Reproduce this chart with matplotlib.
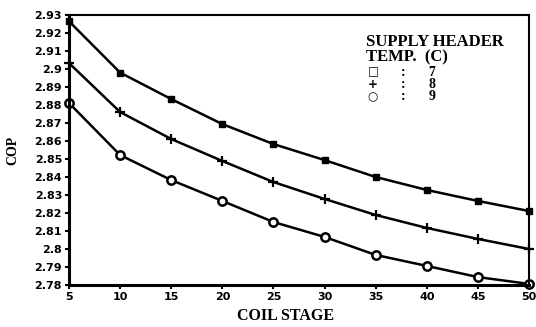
import matplotlib
matplotlib.use("Agg")
import matplotlib.pyplot as plt
import numpy as np

coil_stage = [5, 10, 15, 20, 25, 30, 35, 40, 45, 50]
cop_7 = [2.9265, 2.898, 2.8833, 2.8694, 2.8583, 2.8494, 2.8400, 2.8328, 2.8267, 2.8211]
cop_8 = [2.9033, 2.8761, 2.8611, 2.8489, 2.8372, 2.8278, 2.8189, 2.8117, 2.8056, 2.8000]
cop_9 = [2.8811, 2.8522, 2.8383, 2.8267, 2.8150, 2.8067, 2.7967, 2.7906, 2.7844, 2.7806]
y_ticks = [2.78, 2.79, 2.8, 2.81, 2.82, 2.83, 2.84, 2.85, 2.86, 2.87, 2.88, 2.89, 2.9, 2.91, 2.92, 2.93]
x_ticks = [5, 10, 15, 20, 25, 30, 35, 40, 45, 50]

fig = plt.figure(figsize=(5.36, 3.27), dpi=100)
ax = fig.add_axes([69/536, 1-285/327, 460/536, 270/327])

lw = 1.8
ax.plot(coil_stage, cop_7, color='black', lw=lw, marker='s', ms=5, mfc='black', mec='black', clip_on=False)
ax.plot(coil_stage, cop_8, color='black', lw=lw, marker='+', ms=7, mew=1.6, clip_on=False)
ax.plot(coil_stage, cop_9, color='black', lw=lw, marker='o', ms=6, mfc='white', mec='black', mew=1.8, clip_on=False)

ax.set_xlim(5, 50)
ax.set_ylim(2.78, 2.93)
ax.set_xticks(x_ticks)
ax.set_yticks(y_ticks)
ax.set_yticklabels([('%.2f' % v).rstrip('0').rstrip('.') for v in y_ticks])
ax.set_xticklabels([str(v) for v in x_ticks])
for lab in ax.get_xticklabels() + ax.get_yticklabels():
    lab.set_fontweight('bold')
    lab.set_fontsize(8)
ax.tick_params(axis='both', direction='out', length=3, width=1.5, pad=2)
for s in ax.spines.values():
    s.set_linewidth(1.5)
ax.spines['left'].set_linewidth(2.2)
ax.spines['bottom'].set_linewidth(2.2)

fig.text(286/536, 1-316/327, 'COIL STAGE', ha='center', va='center', family='Liberation Serif', fontweight='bold', fontsize=11.5)
fig.text(13/536, 1-150/327, 'COP', ha='center', va='center', rotation=90, family='Liberation Serif', fontweight='bold', fontsize=10)

tk = dict(family='Liberation Serif', fontweight='bold', fontsize=12, va='center')
fig.text(366/536, 1-42/327, 'SUPPLY HEADER', ha='left', **tk)
fig.text(366/536, 1-57/327, 'TEMP.  (C)', ha='left', **tk)
rows = [('\u25a1', '7', 72), ('+', '8', 85), ('\u25cb', '9', 97)]
for sym, val, yy in rows:
    fig.text(373/536, 1-yy/327, sym, ha='center', family='DejaVu Sans', fontweight='bold', fontsize=8.5, va='center')
    fig.text(403/536, 1-yy/327, ':', ha='center', family='Liberation Serif', fontweight='bold', fontsize=10, va='center')
    fig.text(432/536, 1-yy/327, val, ha='center', family='Liberation Serif', fontweight='bold', fontsize=10, va='center')

fig.savefig('out.png', dpi=100)
